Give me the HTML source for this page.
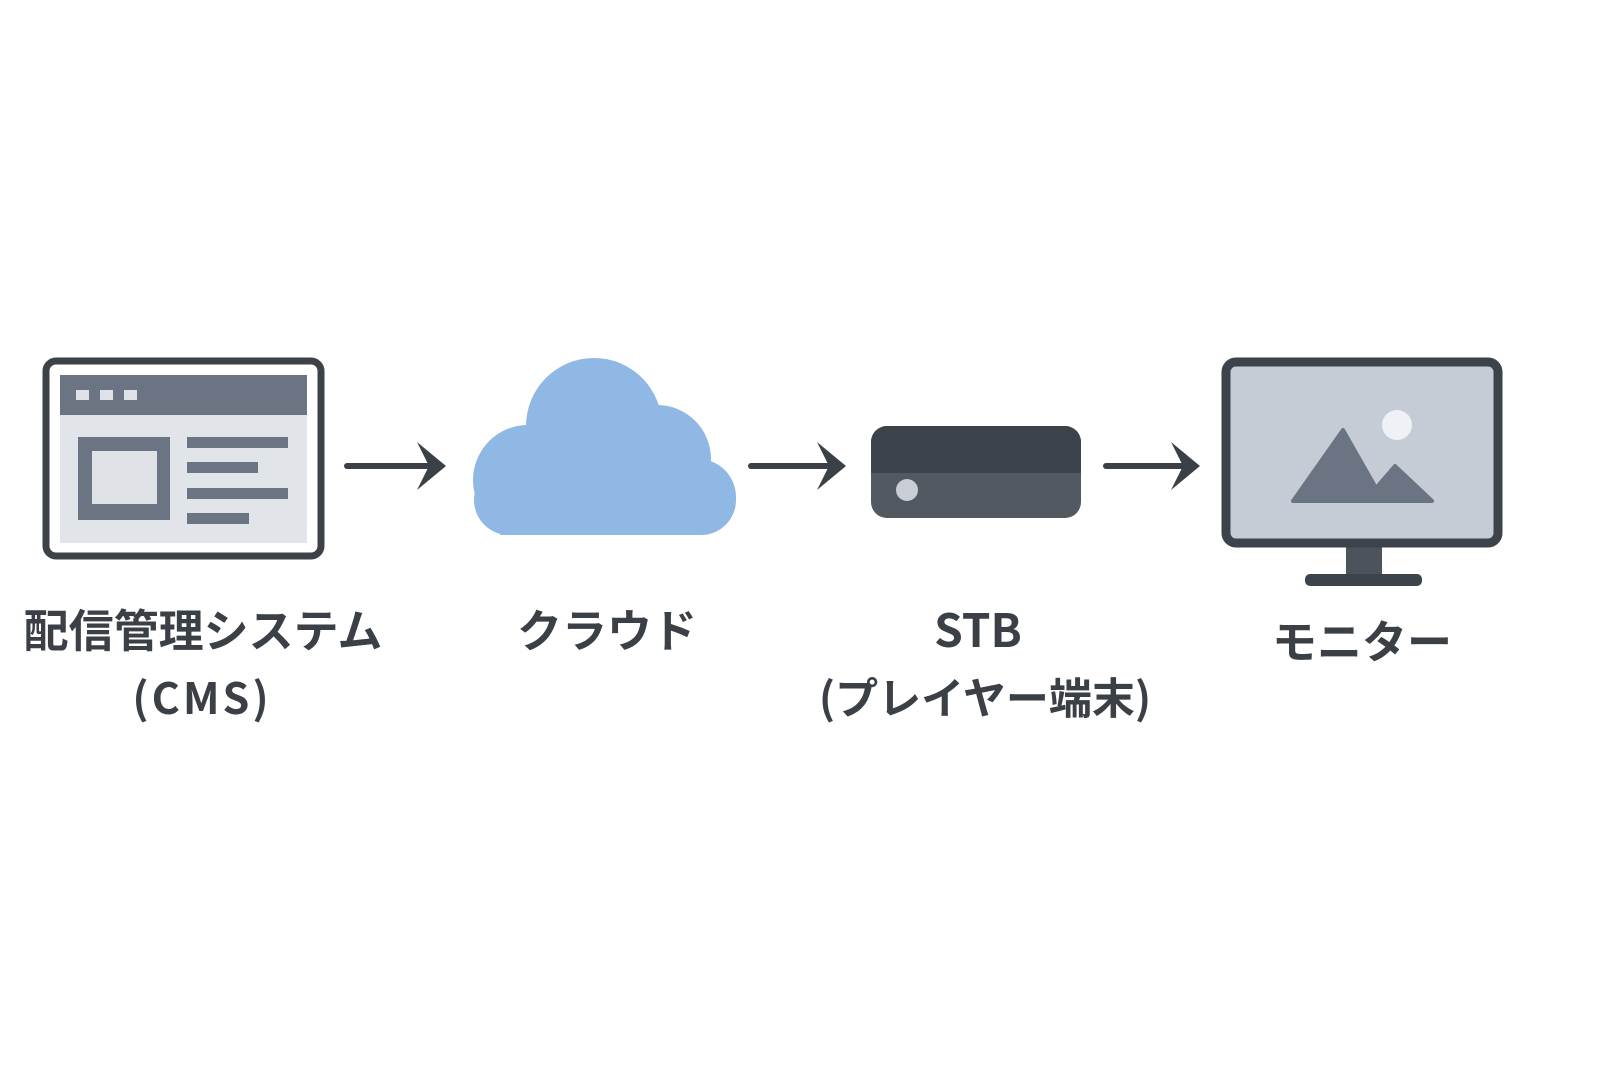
<!DOCTYPE html>
<html><head><meta charset="utf-8"><style>
html,body{margin:0;padding:0;background:#fff;}
svg{display:block;}
text{font-family:"Noto Sans CJK JP","Liberation Sans",sans-serif;fill:#3b4047;font-weight:700;text-anchor:middle;}
</style></head><body>
<svg width="1600" height="1067" viewBox="0 0 1600 1067" xmlns="http://www.w3.org/2000/svg">
<rect width="1600" height="1067" fill="#fff"/>
<!-- CMS window -->
<rect x="46" y="361" width="275" height="195" rx="10" fill="#fff" stroke="#3d4248" stroke-width="7"/>
<rect x="60" y="375" width="247" height="168" fill="#e1e5ea"/>
<rect x="60" y="375" width="247" height="40" fill="#6a7482"/>
<rect x="76" y="390" width="13" height="10" fill="#dfe3e8"/>
<rect x="100" y="390" width="13" height="10" fill="#dfe3e8"/>
<rect x="124" y="390" width="13" height="10" fill="#dfe3e8"/>
<rect x="78" y="437" width="92" height="83" fill="#6a7482"/>
<rect x="92" y="451" width="65" height="53" fill="#dfe3e8"/>
<rect x="187" y="437" width="101" height="11" fill="#6a7482"/>
<rect x="187" y="462" width="71" height="11" fill="#6a7482"/>
<rect x="187" y="488" width="101" height="11" fill="#6a7482"/>
<rect x="187" y="513" width="62" height="11" fill="#6a7482"/>
<!-- arrows -->
<g stroke="#3b4047" stroke-width="6" stroke-linecap="round" fill="none">
<line x1="347" y1="466" x2="432" y2="466"/>
<line x1="751" y1="466" x2="832" y2="466"/>
<line x1="1106" y1="466" x2="1186" y2="466"/>
</g>
<g fill="#3b4047">
<path d="M417 442 L446 466 L417 490 L429 466 Z"/>
<path d="M817 442 L846 466 L817 490 L829 466 Z"/>
<path d="M1171 442 L1200 466 L1171 490 L1183 466 Z"/>
</g>
<!-- cloud -->
<g fill="#8fb8e4">
<circle cx="594" cy="426" r="68"/>
<circle cx="528" cy="480" r="55"/>
<circle cx="657" cy="459" r="54"/>
<circle cx="698" cy="497" r="38"/>
<rect x="474" y="465" width="262" height="70" rx="35"/>
<rect x="500" y="475" width="200" height="60"/>
</g>
<!-- STB -->
<rect x="871" y="426" width="210" height="92" rx="16" fill="#525961"/>
<path d="M887 426 H1065 A16 16 0 0 1 1081 442 V473 H871 V442 A16 16 0 0 1 887 426 Z" fill="#3d434a"/>
<circle cx="907" cy="490" r="11" fill="#c9ced5"/>
<!-- monitor -->
<rect x="1346" y="544" width="36" height="34" fill="#4d535b"/>
<rect x="1305" y="574" width="117" height="12" rx="5" fill="#3d434a"/>
<rect x="1226" y="362" width="272" height="181" rx="10" fill="#c5ccd5" stroke="#3d434a" stroke-width="9"/>
<path d="M1293 501 L1343 430 L1376 488 L1395 466 L1432 501 Z" fill="#6a7482" stroke="#6a7482" stroke-width="4" stroke-linejoin="round"/>
<circle cx="1397" cy="425" r="15" fill="#eef1f5"/>
<!-- labels -->
<text x="203" y="647" font-size="45">配信管理システム</text>
<text x="202" y="714" font-size="43" letter-spacing="3">(CMS)</text>
<text x="607" y="647" font-size="45">クラウド</text>
<text x="978" y="647" font-size="46">STB</text>
<text x="985" y="714" font-size="43">(プレイヤー端末)</text>
<text x="1362" y="658" font-size="45">モニター</text>
</svg>
</body></html>
